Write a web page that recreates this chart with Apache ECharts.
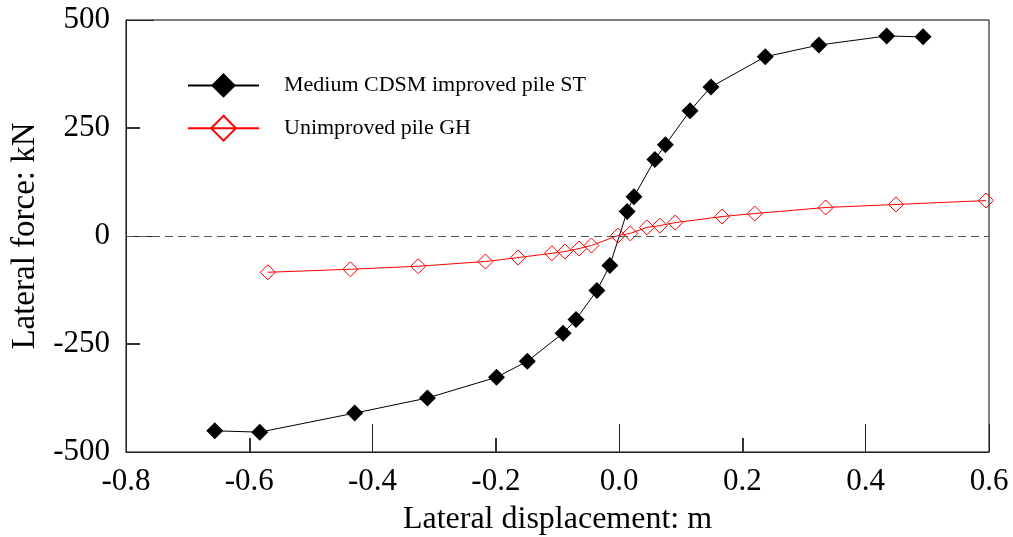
<!DOCTYPE html>
<html>
<head>
<meta charset="utf-8">
<script src="https://cdn.jsdelivr.net/npm/echarts@6/dist/echarts.min.js"></script>
<style>
html,body{margin:0;padding:0;background:#fff;}
#chart{width:1013px;height:537px;}
</style>
</head>
<body>
<div id="chart"></div>
<script>
// Series names
const seriesNames = ['Medium CDSM improved pile ST', 'Unimproved pile GH'];
// Medium CDSM improved pile ST: lateral displacement (m), lateral force (kN)
const stDisp = [-0.656, -0.583, -0.429, -0.311, -0.199, -0.149, -0.091, -0.070, -0.036, -0.015, 0.013, 0.024, 0.058, 0.075, 0.115, 0.149, 0.237, 0.324, 0.434, 0.493];
const stForce = [-451, -454, -410, -375, -327, -290, -225, -193, -126, -68, 57, 91, 177, 211, 290, 345, 415, 442, 463, 461];
// Unimproved pile GH
const ghDisp = [-0.570, -0.436, -0.326, -0.217, -0.164, -0.109, -0.088, -0.065, -0.045, -0.002, 0.018, 0.045, 0.066, 0.091, 0.167, 0.220, 0.335, 0.449, 0.595];
const ghForce = [-84, -77, -70, -59, -50, -40, -36, -29, -22, 1, 6, 20, 24, 31, 45, 52, 66, 73, 82];
// Axis settings
const xTicks = [-0.8, -0.6, -0.4, -0.2, 0.0, 0.2, 0.4, 0.6];
const yTicks = [-500, -250, 0, 250, 500];
const xTitle = 'Lateral displacement: m';
const yTitle = 'Lateral force: kN';

const FONT = "'Liberation Serif', 'DejaVu Serif', serif";
const zip = (a, b) => a.map((v, i) => [v, b[i]]);

const chart = echarts.init(document.getElementById('chart'), null, {renderer: 'canvas'});
const axisColor = '#222';
const xMin = xTicks[0], xMax = xTicks[xTicks.length - 1];
const yMin = yTicks[0], yMax = yTicks[yTicks.length - 1];
const tickAxis = (min, max, interval, pos) => ({
  type: 'value', min: min, max: max, interval: interval, position: pos,
  axisLine: {show: false, onZero: false}, axisLabel: {show: false}, splitLine: {show: false},
  axisTick: {show: true, inside: true, length: 28, lineStyle: {color: axisColor, width: 1}},
  minorTick: {show: true, splitNumber: 2, length: 14, lineStyle: {color: '#333', width: 2}},
  minorSplitLine: {show: false}
});
chart.setOption({
  animation: false,
  backgroundColor: '#fff',
  grid: {left: 126, right: 24, top: 20, bottom: 85, outerBoundsMode: 'none', containLabel: false,
    show: true, borderColor: '#000', borderWidth: 1, backgroundColor: 'transparent'},
  legend: {
    left: 182, top: 68, orient: 'vertical', itemWidth: 71, itemHeight: 31, itemGap: 17,
    data: seriesNames,
    textStyle: {fontFamily: FONT, fontSize: 22, color: '#000', padding: [0, 0, 0, 20]}
  },
  xAxis: [{
    type: 'value', min: xMin, max: xMax, interval: 0.2,
    axisLine: {show: true, onZero: false, lineStyle: {color: axisColor, width: 1}},
    axisTick: {show: false},
    splitLine: {show: false},
    axisLabel: {fontFamily: FONT, fontSize: 31, color: '#000', margin: 14, formatter: v => v.toFixed(1)},
    name: xTitle, nameLocation: 'middle', nameGap: 52,
    nameTextStyle: {fontFamily: FONT, fontSize: 32, color: '#000'}
  },
    tickAxis(xMin, xMax, 0.4, 'bottom')
  ],
  yAxis: [{
    type: 'value', min: yMin, max: yMax, interval: 250,
    axisLine: {show: true, onZero: false, lineStyle: {color: axisColor, width: 1}},
    axisTick: {show: false},
    splitLine: {show: false},
    axisLabel: {fontFamily: FONT, fontSize: 31, color: '#000', margin: 16},
    name: yTitle, nameLocation: 'middle', nameGap: 74,
    nameTextStyle: {fontFamily: FONT, fontSize: 33, color: '#000'}
  },
    tickAxis(yMin, yMax, 500, 'left')
  ],
  series: [{
    name: seriesNames[0], type: 'line', xAxisIndex: 0, yAxisIndex: 0,
    data: zip(stDisp, stForce),
    symbol: 'diamond', symbolSize: 17, z: 3,
    lineStyle: {color: '#000', width: 1},
    itemStyle: {color: '#000', borderWidth: 0},
    markLine: {
      silent: true, symbol: 'none', label: {show: false},
      lineStyle: {color: '#555', type: [8, 5], width: 1},
      data: [{yAxis: 0}]
    }
  }, {
    name: seriesNames[1], type: 'line', xAxisIndex: 0, yAxisIndex: 0,
    data: zip(ghDisp, ghForce),
    symbol: 'diamond', symbolSize: 15, z: 4,
    lineStyle: {color: '#ff0000', width: 1},
    itemStyle: {color: 'rgba(255,255,255,0)', borderColor: '#ff0000', borderWidth: 1}
  }]
});
</script>
</body>
</html>
